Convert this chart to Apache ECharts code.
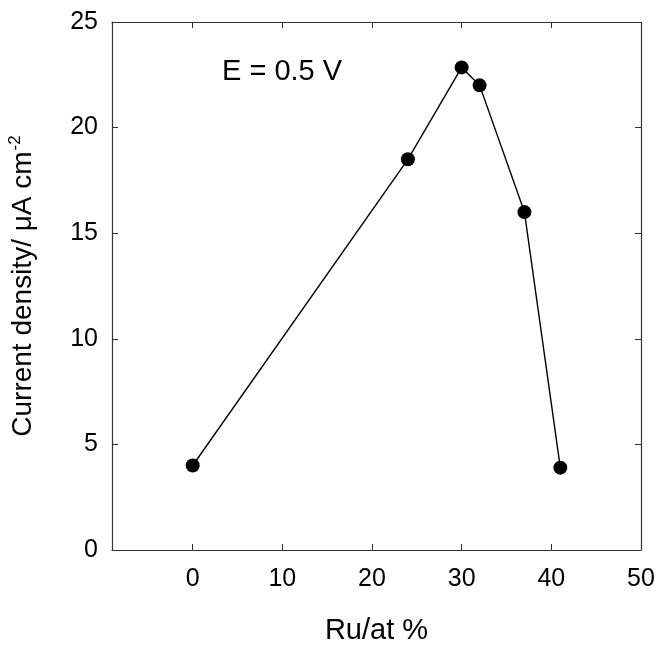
<!DOCTYPE html>
<html>
<head>
<meta charset="utf-8">
<script src="https://cdn.jsdelivr.net/npm/echarts@6/dist/echarts.min.js"></script>
<style>
  html, body { margin: 0; padding: 0; background: #fff; }
  #chart { width: 657px; height: 646px; }
</style>
</head>
<body>
<div id="chart"></div>
<script>
// Ru content (at %) and measured current density (µA cm^-2) at E = 0.5 V
const ruContent = [0, 24, 30, 32, 37, 41];
const currentDensity = [4.0, 18.5, 22.85, 22.0, 16.0, 3.9];
const xTickValues = [0, 10, 20, 30, 40, 50];
const yTickValues = [0, 5, 10, 15, 20, 25];

const FONT = '"Liberation Sans", Arial, Helvetica, sans-serif';
const AXIS_COLOR = '#333';

const points = ruContent.map((x, i) => [x, currentDensity[i]]);

const chart = echarts.init(document.getElementById('chart'));

const tickStyle = () => ({ inside: true, length: 6, lineStyle: { color: AXIS_COLOR, width: 1 } });
const frameLine = () => ({ show: true, onZero: false, lineStyle: { color: AXIS_COLOR, width: 1.2 } });

chart.setOption({
  animation: false,
  backgroundColor: '#fff',
  grid: { left: 112, right: 16, top: 22, bottom: 96, containLabel: false, outerBoundsMode: 'none' },
  xAxis: [
    {
      type: 'value', min: -9, max: 50, position: 'bottom',
      name: 'Ru/at %', nameLocation: 'middle', nameGap: 66,
      nameTextStyle: { fontFamily: FONT, fontSize: 29, color: '#000' },
      axisLine: frameLine(),
      axisTick: Object.assign({ customValues: xTickValues }, tickStyle()),
      axisLabel: { customValues: xTickValues, fontFamily: FONT, fontSize: 25, color: '#000', margin: 17 },
      splitLine: { show: false }
    },
    {
      type: 'value', min: -9, max: 50, position: 'top',
      axisLine: frameLine(),
      axisTick: Object.assign({ customValues: xTickValues }, tickStyle()),
      axisLabel: { show: false },
      splitLine: { show: false }
    }
  ],
  yAxis: [
    {
      type: 'value', min: 0, max: 25, interval: 5, position: 'left',
      name: '{a|Current density/ μA cm}{s|-2}', nameLocation: 'middle', nameGap: 72, nameRotate: 90,
      nameTextStyle: {
        fontFamily: FONT, color: '#000',
        rich: {
          a: { fontFamily: FONT, fontSize: 28, color: '#000' },
          s: { fontFamily: FONT, fontSize: 17, color: '#000', padding: [0, 0, 16, 1] }
        }
      },
      axisLine: frameLine(),
      axisTick: Object.assign({ customValues: yTickValues }, tickStyle()),
      axisLabel: { customValues: yTickValues, fontFamily: FONT, fontSize: 25, color: '#000', margin: 14 },
      splitLine: { show: false }
    },
    {
      type: 'value', min: 0, max: 25, interval: 5, position: 'right',
      axisLine: frameLine(),
      axisTick: Object.assign({ customValues: yTickValues }, tickStyle()),
      axisLabel: { show: false },
      splitLine: { show: false }
    }
  ],
  series: [
    {
      type: 'line',
      xAxisIndex: 0, yAxisIndex: 0,
      data: points,
      symbol: 'circle', symbolSize: 14,
      lineStyle: { color: '#000', width: 1.4 },
      itemStyle: { color: '#000' }
    }
  ],
  graphic: [
    {
      type: 'text', left: 222, top: 57,
      style: { text: 'E = 0.5 V', font: '29px ' + FONT, fill: '#000' }
    }
  ]
});
</script>
</body>
</html>
